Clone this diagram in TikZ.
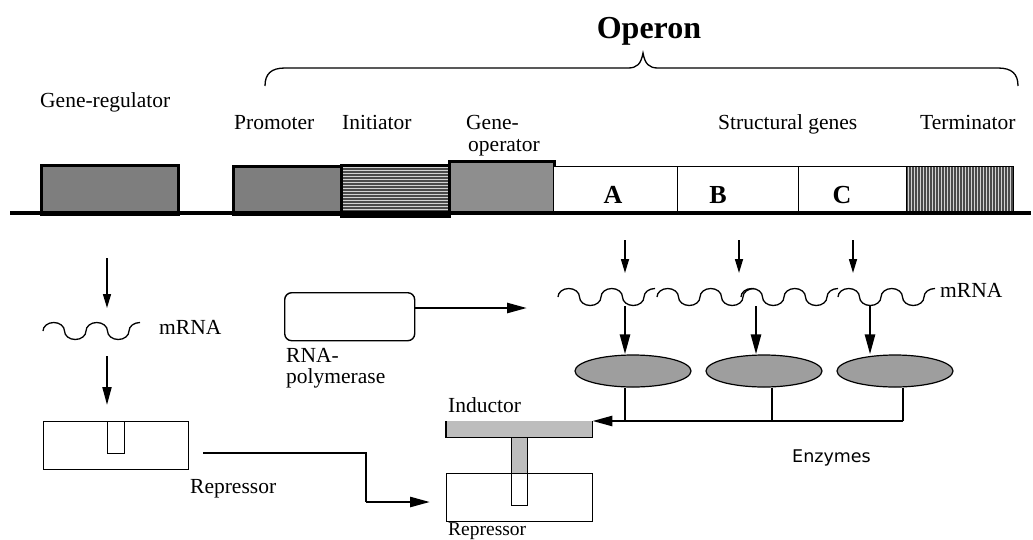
\documentclass[tikz,border=0pt]{standalone}
\usepackage{fontspec}
\setmainfont{Liberation Serif}
\newfontfamily\sansfam{DejaVu Sans}
\usetikzlibrary{arrows.meta,shapes.geometric}

\definecolor{darkfill}{HTML}{7E7E7E}
\definecolor{opfill}{HTML}{8E8E8E}
\definecolor{ellfill}{HTML}{9E9E9E}
\definecolor{indfill}{HTML}{BDBDBD}
\definecolor{stripebg}{HTML}{D2D2D2}
\definecolor{stripefg}{HTML}{4A4A4A}

\tikzset{
  lbl/.style={anchor=base west, inner sep=0pt, font=\fontsize{21.5}{24}\selectfont},
  letter/.style={anchor=base, inner sep=0pt, font=\bfseries\fontsize{26}{28}\selectfont},
  genebox/.style={draw, line width=3pt, inner sep=0pt, anchor=north west},
  plainbox/.style={draw, line width=1.2pt, inner sep=0pt, anchor=north west},
  stripe/.style={line width=1.4pt, stripefg},
  thinarrow/.style={line width=1.5pt, -{Triangle[length=14pt,width=8pt]}},
  midarrow/.style={line width=2pt, -{Triangle[length=18pt,width=9pt]}},
  thickarrow/.style={line width=2.6pt, -{Triangle[length=20pt,width=10pt]}},
  wavepath/.style={line width=1.3pt},
  enzyme/.style={ellipse, draw, line width=1.2pt, fill=ellfill, inner sep=0pt,
    minimum width=116pt, minimum height=32pt},
  pics/mrnawave/.style={code={
    \draw[wavepath] (0,0)
      arc[start angle=180,end angle=360,x radius=10.75,y radius=8.5]
      arc[start angle=180,end angle=0,x radius=10.75,y radius=8.5]
      arc[start angle=180,end angle=360,x radius=10.75,y radius=8.5]
      arc[start angle=180,end angle=0,x radius=10.75,y radius=8.5]
      arc[start angle=180,end angle=270,x radius=11,y radius=8.5];
  }}
}

\begin{document}
\begin{tikzpicture}[x=1pt,y=-1pt]
\useasboundingbox (0,0) rectangle (1033,539);

% ---- operon title and brace
\node[anchor=base, inner sep=0pt, font=\bfseries\fontsize{32}{34}\selectfont] (operon) at (649,38) {Operon};
\draw[line width=1.3pt] (265,86) .. controls (265,74) and (271,68) .. (285,68)
  -- (628,68) .. controls (637,68) and (641,64) .. (643,53)
  .. controls (645,64) and (649,68) .. (658,68)
  -- (998,68) .. controls (1012,68) and (1018,74) .. (1018,86);

% ---- region labels
\node[lbl] (tReg)  at (40,107)  {Gene-regulator};
\node[lbl] (tProm) at (234,129) {Promoter};
\node[lbl] (tInit) at (342,129) {Initiator};
\node[lbl] (tOp1)  at (466,129) {Gene-};
\node[lbl] (tOp2)  at (468,151) {operator};
\node[lbl] (tStr)  at (718,129) {Structural genes};
\node[lbl] (tTerm) at (920,129) {Terminator};

% ---- DNA elements (path pictures use the node centre as origin)
\node[genebox, fill=darkfill, minimum width=137pt, minimum height=49pt] (reg) at (40,164) {};
\node[genebox, fill=darkfill, minimum width=108pt, minimum height=48pt] (prom) at (232,165) {};
\node[genebox, fill=stripebg, minimum width=108pt, minimum height=51pt,
      path picture={\foreach \y in {-25,-22,...,26} \draw[stripe] (-60,\y) -- (60,\y);}] (init) at (340,164) {};
\node[genebox, fill=opfill, minimum width=105pt, minimum height=51pt] (oper) at (448,160) {};
\node[plainbox, fill=white, minimum width=124pt, minimum height=47pt] (gA) at (553,166) {};
\node[plainbox, fill=white, minimum width=121pt, minimum height=47pt] (gB) at (677,166) {};
\node[plainbox, fill=white, minimum width=108pt, minimum height=47pt] (gC) at (798,166) {};
\node[plainbox, fill=stripebg, minimum width=107pt, minimum height=47pt,
      path picture={\foreach \x in {-53,-50,...,55} \draw[stripe] (\x,-30) -- (\x,30);}] (term) at (906,166) {};
\node[letter] (lA) at (613,203) {A};
\node[letter] (lB) at (718,203) {B};
\node[letter] (lC) at (842,203) {C};

% DNA strand
\coordinate (dnaL) at (10,213);
\coordinate (dnaR) at (1031,213);
\draw[line width=3.5pt] (dnaL) -- (dnaR);

% ---- regulator branch
\coordinate (r1s) at (107,258);
\coordinate (r1e) at (107,308);
\draw[thinarrow] (r1s) -- (r1e);
\pic at (43,331) {mrnawave};
\node[lbl] (mrnaL) at (159,334) {mRNA};
\coordinate (r2s) at (107,356);
\coordinate (r2e) at (107,405);
\draw[midarrow] (r2s) -- (r2e);

\node[plainbox, fill=white, minimum width=145pt, minimum height=48pt] (rep1) at (43,421) {};
\node[plainbox, fill=white, minimum width=17pt, minimum height=32pt] (slot1) at (107,421) {};
\node[lbl] (tRep1) at (190,493) {Repressor};

% repressor travels to the operator complex
\coordinate (c0) at (203,453);
\coordinate (c1) at (366,453);
\coordinate (c2) at (366,502);
\coordinate (c3) at (430,502);
\draw[line width=1.2pt] (c0) -- (c1) -- (c2);
\draw[thickarrow] (c2) -- (c3);

% ---- RNA polymerase
\node[draw, rounded corners=7pt, line width=1.4pt, inner sep=0pt, anchor=north west,
      minimum width=130pt, minimum height=48pt] (pol) at (284,292) {};
\node[lbl] (tPol1) at (286,362) {RNA-};
\node[lbl] (tPol2) at (286,383) {polymerase};
\coordinate (polT) at (527,308);
\draw[thickarrow] (pol.east |- polT) -- (polT);

% ---- transcription of structural genes
\foreach \n/\x in {1/625,2/739,3/853}{
  \coordinate (t\n s) at (\x,240);
  \coordinate (t\n e) at (\x,273);
  \draw[thinarrow] (t\n s) -- (t\n e);
}
\pic at (558,297) {mrnawave};
\pic at (657,297) {mrnawave};
\pic at (741,297) {mrnawave};
\pic at (838,297) {mrnawave};
\node[lbl] (mrnaR) at (940,297) {mRNA};

% ---- enzymes
\node[enzyme] (e1) at (633,371) {};
\node[enzyme] (e2) at (764,371) {};
\node[enzyme] (e3) at (895,371) {};
\coordinate (d1) at (625,306);
\coordinate (d2) at (756,306);
\coordinate (d3) at (870,306);
\draw[thickarrow] (d1) -- (d1 |- e1.north);
\draw[thickarrow] (d2) -- (d2 |- e2.north);
\draw[thickarrow] (d3) -- (d3 |- e3.north);

\coordinate (j1) at (625,421);
\coordinate (j2) at (772,421);
\coordinate (j3) at (903,421);
\draw[line width=1.2pt] (j1 |- e1.south) -- (j1);
\draw[line width=1.2pt] (j2 |- e2.south) -- (j2);
\draw[line width=1.2pt] (j3 |- e3.south) -- (j3);
\node[anchor=base west, inner sep=0pt, font=\sansfam\fontsize{17.5}{20}\selectfont] (tEnz) at (792,462) {Enzymes};

% ---- inductor bound to repressor
\node[anchor=north west, fill=indfill, inner sep=0pt, minimum width=146pt, minimum height=16pt] (ind) at (446,421) {};
\draw[line width=1.2pt] (ind.north west) -- (ind.south west) -- (ind.south east) -- (ind.north east);
\node[plainbox, fill=indfill, minimum width=16pt, minimum height=36pt] (stem) at (511,437) {};
\node[plainbox, fill=white, minimum width=146pt, minimum height=48pt] (rep2) at (446,473) {};
\node[plainbox, fill=white, minimum width=16pt, minimum height=32pt] (slot2) at (511,473) {};
\draw[thickarrow] (j3) -- (ind.north east);
\node[lbl] (tInd) at (448,412) {Inductor};
\node[lbl, font=\fontsize{19.5}{22}\selectfont] (tRep2) at (448,535) {Repressor};
\end{tikzpicture}
\end{document}
